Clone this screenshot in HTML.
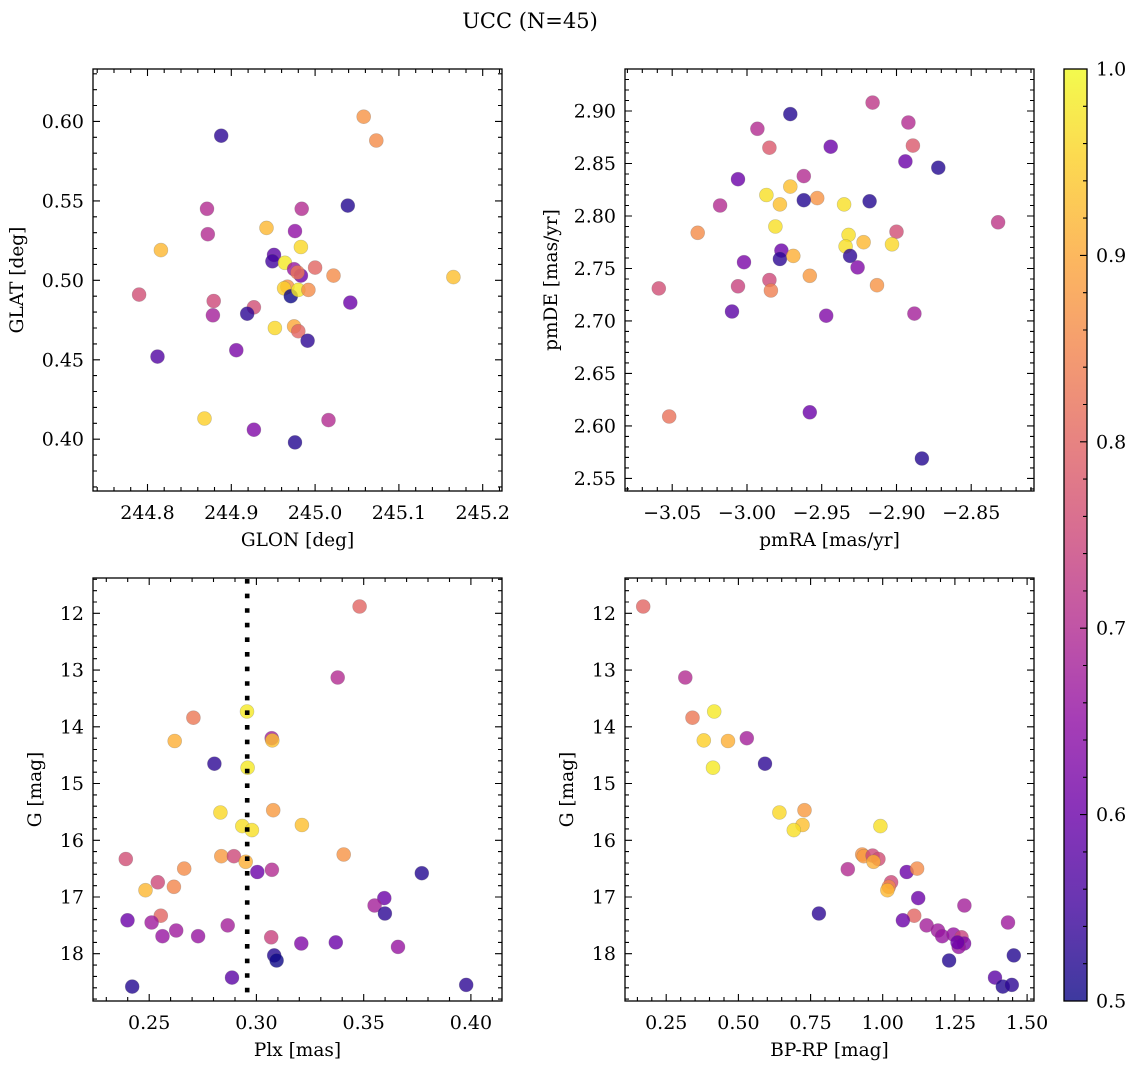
<!DOCTYPE html>
<html><head><meta charset="utf-8">
<style>
html,body{margin:0;padding:0;background:#fff;}
svg{display:block;font-family:"DejaVu Serif","Liberation Serif",serif;}
</style></head>
<body>
<svg id="fig" width="1136" height="1068" viewBox="0 0 1136 1068" xmlns="http://www.w3.org/2000/svg">
<text x="530" y="28" font-size="21" text-anchor="middle">UCC (N=45)</text>
</svg>
<script>
// ---- Panel 1: GLON / GLAT ----
const glon = [245.058,245.073,244.888,244.871,244.984,245.039,244.942,244.976,244.872,244.983,244.816,244.951,244.949,244.964,244.975,244.983,244.979,245.000,245.022,245.165,244.967,244.963,244.971,244.980,244.992,244.790,244.879,245.042,244.927,244.919,244.878,244.952,244.975,244.980,244.991,244.906,244.812,244.868,245.016,244.927,244.976];
const glat = [0.603,0.588,0.591,0.545,0.545,0.547,0.533,0.531,0.529,0.521,0.519,0.516,0.512,0.511,0.507,0.503,0.505,0.508,0.503,0.502,0.496,0.495,0.490,0.494,0.494,0.491,0.487,0.486,0.483,0.479,0.478,0.470,0.471,0.468,0.462,0.456,0.452,0.413,0.412,0.406,0.398];
const prob1 = [0.87,0.86,0.53,0.7,0.7,0.52,0.92,0.65,0.7,0.96,0.92,0.58,0.55,0.98,0.66,0.6,0.83,0.8,0.86,0.93,0.87,0.95,0.5,0.98,0.86,0.76,0.75,0.6,0.76,0.53,0.68,0.96,0.9,0.8,0.53,0.62,0.57,0.95,0.7,0.63,0.52];
const xticks1 = [244.8,244.9,245.0,245.1,245.2];
const yticks1 = [0.40,0.45,0.50,0.55,0.60];

// ---- Panel 2: pmRA / pmDE ----
const pmra = [-2.916,-2.971,-2.993,-2.892,-2.985,-2.944,-2.889,-2.894,-2.872,-3.006,-2.962,-2.971,-2.987,-2.953,-2.962,-2.918,-2.978,-2.935,-3.018,-2.832,-2.981,-3.033,-2.900,-2.932,-2.922,-2.903,-2.934,-2.977,-2.978,-2.969,-2.931,-2.926,-3.002,-2.958,-2.985,-3.006,-2.984,-2.913,-3.059,-3.010,-2.947,-2.888,-3.052,-2.958,-2.883];
const pmde = [2.908,2.897,2.883,2.889,2.865,2.866,2.867,2.852,2.846,2.835,2.838,2.828,2.820,2.817,2.815,2.814,2.811,2.811,2.810,2.794,2.790,2.784,2.785,2.782,2.775,2.773,2.771,2.767,2.759,2.762,2.762,2.751,2.756,2.743,2.739,2.733,2.729,2.734,2.731,2.709,2.705,2.707,2.609,2.613,2.569];
const prob2 = [0.72,0.52,0.7,0.7,0.78,0.6,0.78,0.6,0.52,0.6,0.7,0.93,0.97,0.87,0.52,0.52,0.93,0.97,0.7,0.72,0.97,0.86,0.76,0.97,0.92,0.96,0.97,0.6,0.53,0.91,0.53,0.63,0.62,0.88,0.75,0.74,0.84,0.87,0.76,0.58,0.63,0.68,0.82,0.6,0.52];
const xticks2 = [-3.05,-3.00,-2.95,-2.90,-2.85];
const yticks2 = [2.55,2.60,2.65,2.70,2.75,2.80,2.85,2.90];

// ---- Panel 3: Plx / G ----
const plx = [0.3481,0.3379,0.2956,0.2706,0.3071,0.3074,0.2619,0.2804,0.2959,0.2832,0.3078,0.2934,0.2979,0.3212,0.2391,0.2836,0.2895,0.2950,0.3407,0.2663,0.3004,0.3072,0.3771,0.2483,0.2540,0.2615,0.3596,0.3551,0.3599,0.2399,0.2554,0.2511,0.2866,0.2562,0.2626,0.2728,0.3069,0.3209,0.3370,0.3660,0.3083,0.3094,0.2886,0.2421,0.3978];
const gmag3 = [11.88,13.13,13.73,13.84,14.20,14.24,14.25,14.65,14.72,15.51,15.47,15.75,15.82,15.73,16.33,16.28,16.28,16.38,16.25,16.50,16.56,16.52,16.58,16.88,16.74,16.82,17.02,17.15,17.29,17.41,17.33,17.45,17.50,17.69,17.59,17.69,17.71,17.82,17.80,17.88,18.03,18.12,18.42,18.58,18.55];
const prob3 = [0.8,0.7,0.98,0.83,0.68,0.93,0.91,0.53,0.98,0.96,0.88,0.97,0.97,0.93,0.76,0.88,0.75,0.91,0.87,0.86,0.6,0.7,0.52,0.92,0.75,0.85,0.6,0.68,0.53,0.6,0.8,0.67,0.68,0.66,0.67,0.66,0.74,0.63,0.6,0.66,0.52,0.5,0.58,0.52,0.53];
const plxLine = [0.2957];
const xticks3 = [0.25,0.30,0.35,0.40];
const yticks3 = [12,13,14,15,16,17,18];

// ---- Panel 4: BP-RP / G ----
const bprp = [0.170,0.316,0.416,0.341,0.529,0.464,0.380,0.592,0.412,0.642,0.729,0.722,0.692,0.992,0.929,0.934,0.965,0.985,0.968,0.879,1.083,1.119,1.029,1.021,1.016,1.123,1.283,0.779,1.109,1.070,1.152,1.434,1.191,1.206,1.245,1.273,1.282,1.263,1.259,1.230,1.454,1.389,1.416,1.447];
const gmag4 = [11.88,13.13,13.73,13.84,14.20,14.25,14.24,14.65,14.72,15.51,15.47,15.73,15.82,15.75,16.25,16.28,16.27,16.33,16.38,16.51,16.56,16.50,16.74,16.82,16.88,17.02,17.15,17.29,17.33,17.41,17.50,17.45,17.59,17.69,17.66,17.71,17.82,17.88,17.80,18.12,18.03,18.42,18.58,18.55];
const prob4 = [0.8,0.7,0.98,0.83,0.68,0.91,0.95,0.53,0.98,0.96,0.88,0.93,0.97,0.97,0.87,0.88,0.75,0.76,0.91,0.7,0.6,0.86,0.75,0.85,0.92,0.6,0.68,0.53,0.8,0.6,0.68,0.67,0.67,0.66,0.66,0.74,0.63,0.66,0.6,0.52,0.52,0.58,0.52,0.53];
const xticks4 = [0.25,0.50,0.75,1.00,1.25,1.50];
const yticks4 = [12,13,14,15,16,17,18];

const cbTicks = [0.5,0.6,0.7,0.8,0.9,1.0];

const NS = "http://www.w3.org/2000/svg";
const svg = document.getElementById('fig');
function mk(tag, attrs, parent){
  const e = document.createElementNS(NS, tag);
  for (const k in attrs) e.setAttribute(k, attrs[k]);
  (parent||svg).appendChild(e);
  return e;
}
const stops = ["#0d0887","#41049d","#6a00a8","#8f0da4","#b12a90","#cc4778","#e16462","#f2844b","#fca636","#fcce25","#f0f921"];
function hex2rgb(h){return [parseInt(h.substr(1,2),16),parseInt(h.substr(3,2),16),parseInt(h.substr(5,2),16)];}
function plasma(p){
  let t = Math.max(0, Math.min(1, (p-0.5)/0.5));
  const f = t*10, i = Math.min(9, Math.floor(f)), r = f-i;
  const a = hex2rgb(stops[i]), b = hex2rgb(stops[i+1]);
  return 'rgb('+a.map((v,k)=>Math.round(v+(b[k]-v)*r)).join(',')+')';
}

function panel(cfg){
  const {L,R,T,B,xmin,xmax,ymin,ymax,invertY,xs,ys,ps,xticks,yticks,xminor,yminor,xdec,ydec,xlabel,ylabel,name,ylabelX} = cfg;
  const sx = v => L + (v-xmin)/(xmax-xmin)*(R-L);
  const sy = v => invertY ? T + (v-ymin)/(ymax-ymin)*(B-T) : B - (v-ymin)/(ymax-ymin)*(B-T);
  const g = mk('g', {});
  
  
  const pg = mk('g', {}, g);
  
  
  for (let i=0;i<xs.length;i++){
    const c = mk('circle', {cx:sx(xs[i]).toFixed(1), cy:sy(ys[i]).toFixed(1), r:7, fill:plasma(ps[i]), 'fill-opacity':0.8, stroke:'#666', 'stroke-opacity':0.35, 'stroke-width':0.6}, pg);
    
    
  }
  if (cfg.vline){
    const vl = mk('line', {x1:sx(cfg.vline[0]), x2:sx(cfg.vline[0]), y1:T+1, y2:B, stroke:'#000', 'stroke-width':4.6, 'stroke-dasharray':'4.6 10'}, g);
    
    
  }
  const fr = mk('rect', {x:L, y:T, width:R-L, height:B-T, fill:'none', stroke:'#000', 'stroke-width':1.3}, g);
  
  
  let d = '';
  const eps = 1e-9;
  for (let v = Math.ceil(xmin/xminor-eps)*xminor; v <= xmax+eps; v += xminor){
    const X = sx(v); if (X<L+0.5||X>R-0.5) continue;
    const major = xticks.some(t=>Math.abs(t-v)<xminor/3);
    const len = major?7:4;
    d += `M${X.toFixed(1)} ${B}v${-len}M${X.toFixed(1)} ${T}v${len}`;
  }
  for (let v = Math.ceil(ymin/yminor-eps)*yminor; v <= ymax+eps; v += yminor){
    const Y = sy(v); if (Y<T+0.5||Y>B-0.5) continue;
    const major = yticks.some(t=>Math.abs(t-v)<yminor/3);
    const len = major?7:4;
    d += `M${L} ${Y.toFixed(1)}h${len}M${R} ${Y.toFixed(1)}h${-len}`;
  }
  const tk = mk('path', {d:d, stroke:'#000', 'stroke-width':1.1, fill:'none'}, g);
  
  
  xticks.forEach(v=>{
    const t = mk('text', {x:sx(v), y:B+28, 'font-size':19, 'text-anchor':'middle'}, g);
    t.textContent = (v<0?'\u2212':'')+Math.abs(v).toFixed(xdec);
    
    
  });
  yticks.forEach(v=>{
    const t = mk('text', {x:L-9, y:sy(v)+6.5, 'font-size':19, 'text-anchor':'end'}, g);
    t.textContent = v.toFixed(ydec);
    
    
  });
  const xl = mk('text', {x:(L+R)/2, y:B+55, 'font-size':18.5, 'text-anchor':'middle'}, g);
  xl.textContent = xlabel;
  
  
  const yc = (T+B)/2;
  const yl = mk('text', {x:ylabelX, y:yc, 'font-size':18.5, 'text-anchor':'middle', transform:`rotate(-90 ${ylabelX} ${yc})`}, g);
  yl.textContent = ylabel;
  
  
}

panel({name:'glon-glat-panel',L:93,R:502,T:69,B:491,xmin:244.735,xmax:245.223,ymin:0.3674,ymax:0.633,xs:glon,ys:glat,ps:prob1,xticks:xticks1,yticks:yticks1,xminor:0.02,yminor:0.01,xdec:1,ydec:2,xlabel:'GLON [deg]',ylabel:'GLAT [deg]',ylabelX:23});
panel({name:'pm-panel',L:625,R:1034,T:69,B:491,xmin:-3.0816,xmax:-2.808,ymin:2.538,ymax:2.940,xs:pmra,ys:pmde,ps:prob2,xticks:xticks2,yticks:yticks2,xminor:0.01,yminor:0.01,xdec:2,ydec:2,xlabel:'pmRA [mas/yr]',ylabel:'pmDE [mas/yr]',ylabelX:557});
panel({name:'plx-g-panel',L:93,R:502,T:578,B:1001,xmin:0.2238,xmax:0.4145,ymin:11.377,ymax:18.833,invertY:true,xs:plx,ys:gmag3,ps:prob3,xticks:xticks3,yticks:yticks3,xminor:0.01,yminor:0.2,xdec:2,ydec:0,xlabel:'Plx [mas]',ylabel:'G [mag]',ylabelX:41,vline:plxLine});
panel({name:'cmd-panel',L:625,R:1034,T:578,B:1001,xmin:0.1071,xmax:1.524,ymin:11.377,ymax:18.833,invertY:true,xs:bprp,ys:gmag4,ps:prob4,xticks:xticks4,yticks:yticks4,xminor:0.05,yminor:0.2,xdec:2,ydec:0,xlabel:'BP-RP [mag]',ylabel:'G [mag]',ylabelX:573});

// ---- Colorbar ----
(function(){
  const L=1064,R=1087,T=69,B=1001;
  const g = mk('g', {});
  
  
  const defs = mk('defs', {}, g);
  const lg = mk('linearGradient', {id:'cbg', x1:0, y1:1, x2:0, y2:0}, defs);
  stops.forEach((c,i)=>mk('stop', {offset:(i/10), 'stop-color':c}, lg));
  const r = mk('rect', {x:L, y:T, width:R-L, height:B-T, fill:'url(#cbg)', 'fill-opacity':0.8}, g);
  
  
  mk('rect', {x:L, y:T, width:R-L, height:B-T, fill:'none', stroke:'#000', 'stroke-width':1.3}, g);
  const sy = v => B - (v-0.5)/0.5*(B-T);
  let d='';
  for (let i=0;i<=25;i++){ const v=0.5+i*0.02; const Y=sy(v); const major = (i%5===0); d += `M${R} ${Y.toFixed(1)}h${major?-7:-4}`; }
  mk('path', {d:d, stroke:'#000', 'stroke-width':1.1}, g);
  cbTicks.forEach(v=>{
    const t = mk('text', {x:R+9, y:sy(v)+6.5, 'font-size':19}, g);
    t.textContent = v.toFixed(1);
    
    
  });
})();
</script>
</body></html>
